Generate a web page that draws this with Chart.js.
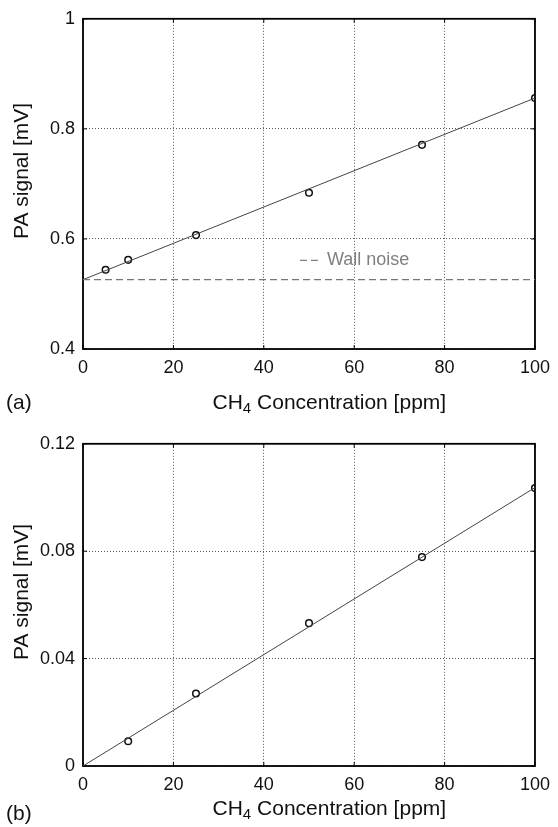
<!DOCTYPE html>
<html lang="en">
<head>
  <meta charset="UTF-8" />
  <title>PA signal vs CH4 concentration</title>
  <script src="https://cdn.jsdelivr.net/npm/chart.js"></script>
  <style>
    body {
      margin: 0;
      padding: 0;
      background: #fff;
    }
    canvas {
      display: block;
    }
  </style>
</head>
<body>
  <canvas id="chartA" width="558" height="425"></canvas>
  <canvas id="chartB" width="558" height="402"></canvas>

  <script>
    // panel (a)
    const concA = [5, 10, 25, 50, 75, 100];
    const signalA = [0.544, 0.562, 0.607, 0.684, 0.771, 0.856];
    const fitX = [0, 100];
    const fitA = [0.526, 0.856];
    const wallNoise = 0.526;
    const wallNoiseLabel = 'Wall noise';
    const wallNoisePos = [48, 0.561];
    const yTicksA = [0.4, 0.6, 0.8, 1];

    // panel (b)
    const concB = [10, 25, 50, 75, 100];
    const signalB = [0.0092, 0.027, 0.0532, 0.0778, 0.1035];
    const fitB = [0, 0.1037];
    const yTicksB = [0, 0.04, 0.08, 0.12];

    const xTicks = [0, 20, 40, 60, 80, 100];
    const xTitle = ['CH', '4', ' Concentration [ppm]'];
    const yTitle = 'PA signal [mV]';

    const FONT = "'Liberation Sans', Arial, Helvetica, sans-serif";
    Chart.defaults.font.family = FONT;
    Chart.defaults.font.size = 18;
    Chart.defaults.color = '#111';

    const zip = (xs, ys) => xs.map((x, i) => ({ x, y: ys[i] }));

    // box round the plot + small inward ticks, like the original
    const boxPlugin = {
      id: 'box',
      beforeDatasetsDraw(chart) {
        const { ctx, chartArea: a, scales } = chart;
        ctx.save();
        ctx.strokeStyle = '#000';
        ctx.lineWidth = 1;
        ctx.beginPath();
        scales.x.ticks.forEach(t => {
          const px = scales.x.getPixelForValue(t.value);
          ctx.moveTo(px, a.bottom); ctx.lineTo(px, a.bottom - 4);
          ctx.moveTo(px, a.top); ctx.lineTo(px, a.top + 4);
        });
        scales.y.ticks.forEach(t => {
          const py = scales.y.getPixelForValue(t.value);
          ctx.moveTo(a.left, py); ctx.lineTo(a.left + 4, py);
          ctx.moveTo(a.right, py); ctx.lineTo(a.right - 4, py);
        });
        ctx.stroke();
        ctx.lineWidth = 1.8;
        ctx.strokeRect(a.left, a.top, a.right - a.left, a.bottom - a.top);
        ctx.restore();
      }
    };

    // axis titles, "(a)" / "(b)" and the wall noise note
    const notePlugin = {
      id: 'notes',
      afterDraw(chart, args, o) {
        const { ctx, chartArea: a, scales } = chart;
        ctx.save();
        ctx.fillStyle = '#111';
        ctx.textBaseline = 'middle';

        // y title
        ctx.save();
        ctx.translate(22, (a.top + a.bottom) / 2 - 13);
        ctx.rotate(-Math.PI / 2);
        ctx.textAlign = 'center';
        ctx.font = `21px ${FONT}`;
        ctx.fillText(yTitle, 0, 0);
        ctx.restore();

        // x title with subscript 4
        ctx.textAlign = 'left';
        const big = `21px ${FONT}`, small = `15px ${FONT}`;
        ctx.font = big;
        const w0 = ctx.measureText(xTitle[0]).width;
        const w2 = ctx.measureText(xTitle[2]).width;
        ctx.font = small;
        const w1 = ctx.measureText(xTitle[1]).width;
        const cx = a.left + 0.545 * (a.right - a.left);
        const ty = a.bottom + o.titleDy;
        let tx = cx - (w0 + w1 + w2) / 2;
        ctx.font = big;
        ctx.fillText(xTitle[0], tx, ty);
        tx += w0;
        ctx.font = small;
        ctx.fillText(xTitle[1], tx, ty + 6);
        tx += w1;
        ctx.font = big;
        ctx.fillText(xTitle[2], tx, ty);

        // panel letter
        ctx.fillText(o.panel, 6, a.bottom + o.panelDy);

        // wall noise legend
        if (o.note) {
          const nx = scales.x.getPixelForValue(o.notePos[0]);
          const ny = scales.y.getPixelForValue(o.notePos[1]);
          ctx.strokeStyle = '#808080';
          ctx.lineWidth = 1.2;
          ctx.setLineDash([7, 4]);
          ctx.beginPath();
          ctx.moveTo(nx, ny);
          ctx.lineTo(nx + 19, ny);
          ctx.stroke();
          ctx.setLineDash([]);
          ctx.fillStyle = '#808080';
          ctx.font = `18px ${FONT}`;
          ctx.fillText(o.note, nx + 27, ny);
        }
        ctx.restore();
      }
    };

    function makeChart(id, cfg) {
      const datasets = [];
      if (cfg.noise !== undefined) {
        datasets.push({
          label: 'wall noise',
          data: zip(fitX, fitX.map(() => cfg.noise)),
          showLine: true,
          borderColor: '#777',
          borderWidth: 1.2,
          borderDash: [7, 4],
          pointRadius: 0
        });
      }
      datasets.push({
        label: 'fit',
        data: zip(fitX, cfg.fit),
        showLine: true,
        borderColor: '#444',
        borderWidth: 1,
        pointRadius: 0
      });
      datasets.push({
        label: 'measured',
        data: zip(cfg.xs, cfg.ys),
        showLine: false,
        pointRadius: 3.3,
        pointBorderWidth: 1.5,
        pointBorderColor: '#111',
        pointBackgroundColor: 'rgba(0,0,0,0)'
      });

      return new Chart(document.getElementById(id), {
        type: 'scatter',
        data: { datasets },
        options: {
          responsive: false,
          animation: false,
          layout: { padding: { left: 0, top: cfg.top, right: 22, bottom: 0 } },
          plugins: {
            legend: { display: false },
            tooltip: { enabled: false },
            notes: cfg.notes
          },
          scales: {
            x: {
              type: 'linear',
              min: 0, max: 100,
              afterBuildTicks: s => { s.ticks = xTicks.map(v => ({ value: v })); },
              afterFit: s => { s.height = cfg.xHeight; },
              grid: { color: '#555', lineWidth: 1, drawTicks: false },
              border: { display: false, dash: [1, 2] },
              ticks: { padding: cfg.tickPad, maxRotation: 0 }
            },
            y: {
              min: cfg.yTicks[0], max: cfg.yTicks[cfg.yTicks.length - 1],
              afterBuildTicks: s => { s.ticks = cfg.yTicks.map(v => ({ value: v })); },
              afterFit: s => { s.width = 83; },
              grid: { color: '#555', lineWidth: 1, drawTicks: false },
              border: { display: false, dash: [1, 2] },
              ticks: { padding: 8, callback: v => String(+v.toFixed(3)) }
            }
          }
        },
        plugins: [boxPlugin, notePlugin]
      });
    }

    makeChart('chartA', {
      xs: concA, ys: signalA, fit: fitA, noise: wallNoise,
      yTicks: yTicksA, top: 15, xHeight: 76, tickPad: 8,
      notes: { panel: '(a)', panelDy: 54, titleDy: 54, note: wallNoiseLabel, notePos: wallNoisePos }
    });

    makeChart('chartB', {
      xs: concB, ys: signalB, fit: fitB,
      yTicks: yTicksB, top: 16, xHeight: 61, tickPad: 8,
      notes: { panel: '(b)', panelDy: 48, titleDy: 43 }
    });
  </script>
</body>
</html>
